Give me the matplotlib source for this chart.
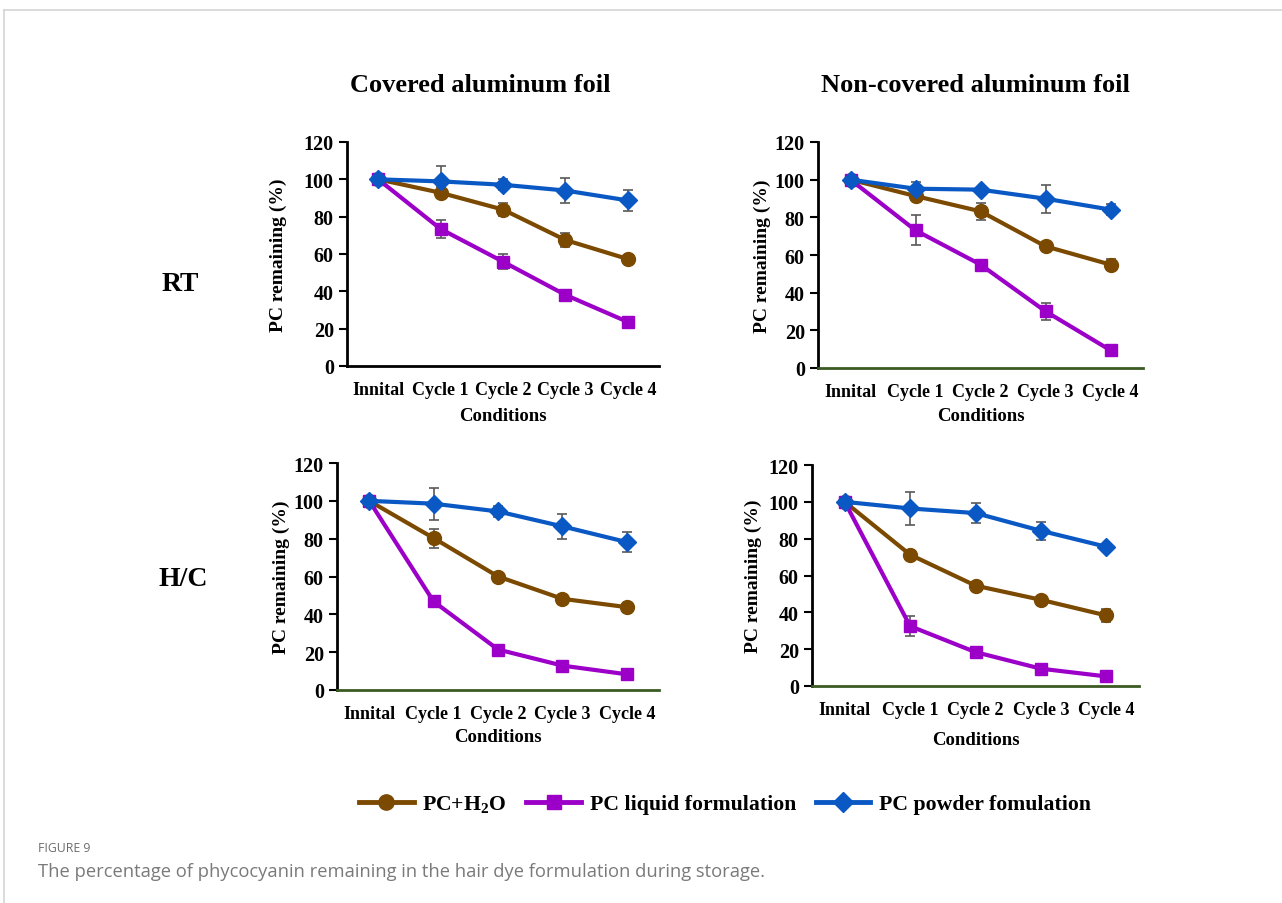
import matplotlib
matplotlib.use('Agg')
import matplotlib.pyplot as plt
from matplotlib.lines import Line2D
from matplotlib import rcParams

rcParams['font.family'] = 'Liberation Serif'
rcParams['font.weight'] = 'bold'
rcParams['mathtext.fontset'] = 'custom'
rcParams['mathtext.rm'] = 'Liberation Serif:bold'
rcParams['mathtext.bf'] = 'Liberation Serif:bold'
rcParams['mathtext.it'] = 'Liberation Serif:bold'

W, H = 1282, 904
BROWN = '#7B4A00'
PURPLE = '#9C00C8'
BLUE = '#0A58C4'
ERR = '#595959'
GREEN_AX = '#3B5B22'

conditions = ['Innital', 'Cycle 1', 'Cycle 2', 'Cycle 3', 'Cycle 4']
series_names = ['PC+H$_2$O', 'PC liquid formulation', 'PC powder fomulation']

# RT, covered
rt_cov_h2o = [100, 92.8, 83.8, 67.5, 57.3]
rt_cov_h2o_err = [1, 3, 3.5, 4, 1]
rt_cov_liq = [100, 73.4, 55.9, 38.1, 23.6]
rt_cov_liq_err = [1, 5, 4, 2, 1]
rt_cov_pow = [100, 98.9, 97.1, 94.0, 88.7]
rt_cov_pow_err = [1, 8, 3, 6.5, 5.5]

# RT, non-covered
rt_non_h2o = [100, 91.3, 83.2, 64.6, 54.9]
rt_non_h2o_err = [1, 2, 4.5, 1, 3]
rt_non_liq = [100, 73.1, 54.9, 30.1, 9.4]
rt_non_liq_err = [1, 8, 1, 4.5, 1]
rt_non_pow = [100, 95.2, 94.7, 89.9, 84.1]
rt_non_pow_err = [1, 3.5, 1, 7.5, 3]

# H/C, covered
hc_cov_h2o = [100, 80.3, 60.0, 48.2, 43.8]
hc_cov_h2o_err = [1, 5, 1, 1, 1]
hc_cov_liq = [100, 46.8, 21.4, 12.9, 8.3]
hc_cov_liq_err = [1, 2.5, 2.5, 1, 1]
hc_cov_pow = [100, 98.5, 94.4, 86.5, 78.2]
hc_cov_pow_err = [1, 8.5, 3, 6.5, 5.3]

# H/C, non-covered
hc_non_h2o = [100, 71.3, 54.5, 46.8, 38.3]
hc_non_h2o_err = [1, 2.5, 1, 1, 3.5]
hc_non_liq = [100, 32.5, 18.4, 9.4, 5.2]
hc_non_liq_err = [1, 5.5, 1.5, 1.5, 1.5]
hc_non_pow = [100, 96.4, 93.9, 84.3, 75.6]
hc_non_pow_err = [1, 9, 5.5, 5, 1]

fig = plt.figure(figsize=(W / 100, H / 100), dpi=100, facecolor='white')


def box(l, t, r, b):
    return [l / W, 1 - b / H, (r - l) / W, (b - t) / H]


# rect, bottom spine colour, ylabel pad, xlabel pad, series
panels = [
    (box(347, 143, 659, 367), 'black', 12, 6,
     (rt_cov_h2o, rt_cov_h2o_err), (rt_cov_liq, rt_cov_liq_err), (rt_cov_pow, rt_cov_pow_err)),
    (box(818, 143, 1143, 369), GREEN_AX, 3, 5,
     (rt_non_h2o, rt_non_h2o_err), (rt_non_liq, rt_non_liq_err), (rt_non_pow, rt_non_pow_err)),
    (box(337, 464, 659, 691), GREEN_AX, 2.5, 4,
     (hc_cov_h2o, hc_cov_h2o_err), (hc_cov_liq, hc_cov_liq_err), (hc_cov_pow, hc_cov_pow_err)),
    (box(812, 466, 1139, 687), GREEN_AX, 4.5, 9,
     (hc_non_h2o, hc_non_h2o_err), (hc_non_liq, hc_non_liq_err), (hc_non_pow, hc_non_pow_err)),
]

styles = [(BROWN, 'o', 10), (PURPLE, 's', 9), (BLUE, 'D', 9.5)]
xs = list(range(len(conditions)))

for rect, bottom_col, ypad, xpad, *series in panels:
    ax = fig.add_axes(rect)
    for (vals, errs), (col, mk, ms) in zip(series, styles):
        ax.errorbar(xs, vals, yerr=errs, color=col, marker=mk, ms=ms, lw=3,
                    mec=col, mfc=col, ecolor=ERR, elinewidth=1.2, capsize=3.5,
                    capthick=1.2)
    ax.set_xlim(-0.5, 4.5)
    ax.set_ylim(0, 120)
    ax.set_yticks(range(0, 121, 20))
    ax.set_xticks(xs)
    ax.set_xticklabels(conditions)
    ax.tick_params(axis='y', direction='out', length=5.5, width=1.5, labelsize=14.5, pad=4)
    ax.tick_params(axis='x', length=0, labelsize=13, pad=11)
    for s in ['top', 'right']:
        ax.spines[s].set_visible(False)
    ax.spines['left'].set_linewidth(2)
    ax.spines['bottom'].set_linewidth(2)
    ax.spines['bottom'].set_color(bottom_col)
    ax.set_ylabel('PC remaining (%)', fontsize=14, fontweight='bold', labelpad=ypad)
    ax.set_xlabel('Conditions', fontsize=13.5, fontweight='bold', labelpad=xpad)

fig.text(480 / W, 1 - 86 / H, 'Covered aluminum foil', fontsize=19, fontweight='bold', ha='center', va='center')
fig.text(975 / W, 1 - 86 / H, 'Non-covered aluminum foil', fontsize=19, fontweight='bold', ha='center', va='center')
fig.text(180 / W, 1 - 285 / H, 'RT', fontsize=20, fontweight='bold', ha='center', va='center')
fig.text(183 / W, 1 - 580 / H, 'H/C', fontsize=20, fontweight='bold', ha='center', va='center')

handles = [Line2D([], [], color=c, marker=m, ms=ms + 1, lw=3.5) for c, m, ms in styles]
fig.legend(handles, series_names, loc='center', bbox_to_anchor=(725 / W, 1 - 805 / H), ncol=3,
           frameon=False, fontsize=15.7, handlelength=2.5, columnspacing=0.9, handletextpad=0.4)

fig.text(38 / W, 1 - 849 / H, 'FIGURE 9', fontsize=8.8, color='#6b6b6b', family='Open Sans',
         fontweight='normal', va='center', ha='left')
fig.text(38 / W, 1 - 872 / H, 'The percentage of phycocyanin remaining in the hair dye formulation during storage.',
         fontsize=13.25, color='#7a7a7a', family='Open Sans', fontweight='normal', va='center', ha='left')

fig.add_artist(Line2D([4 / W, 1], [1 - 11 / H, 1 - 11 / H], color='#d4d4d4', lw=1.2))
fig.add_artist(Line2D([4 / W, 4 / W], [0, 1 - 11 / H], color='#d4d4d4', lw=1.2))

fig.savefig('out.png', dpi=100, facecolor='white')
